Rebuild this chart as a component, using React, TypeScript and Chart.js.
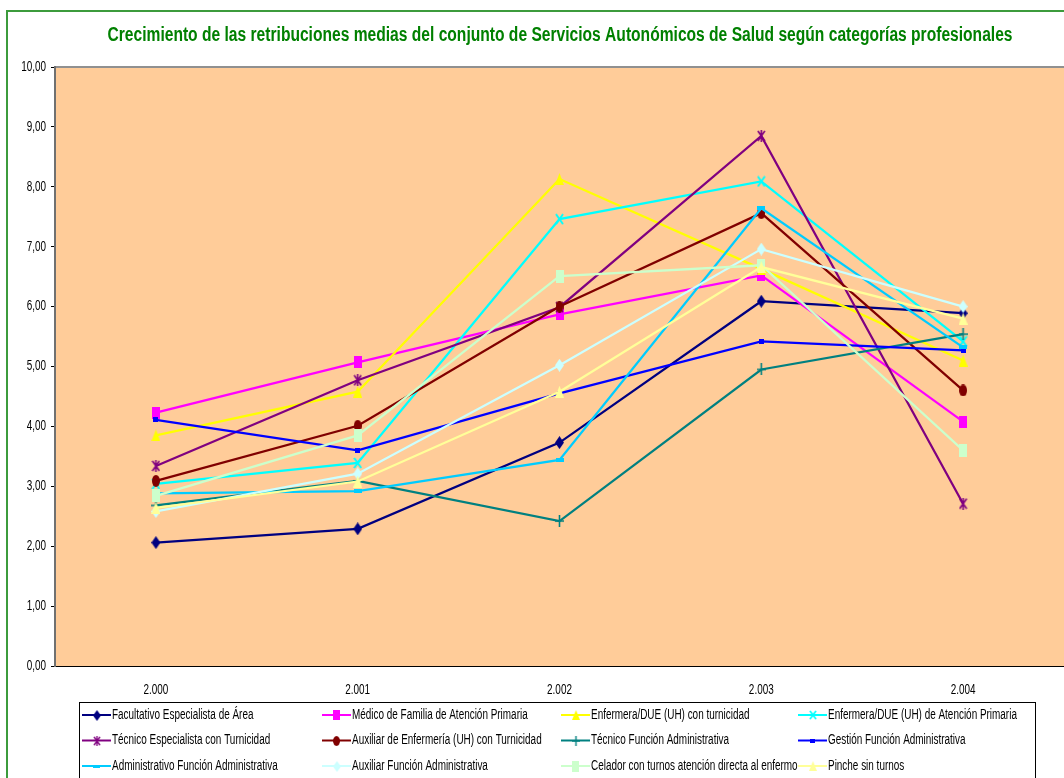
import React, { useEffect, useRef } from "react";
import { Chart, registerables } from "chart.js";

Chart.register(...registerables);

const TITLE = "Crecimiento de las retribuciones medias del conjunto de Servicios Autonómicos de Salud según categorías profesionales";
const YEARS = ["2.000", "2.001", "2.002", "2.003", "2.004"];

const facultativo = [2.06, 2.29, 3.73, 6.09, 5.89];
const medicoFamilia = [4.23, 5.07, 5.87, 6.52, 4.08];
const enfermeraTurnicidad = [3.85, 4.58, 8.13, 6.63, 5.1];
const enfermeraAP = [3.04, 3.39, 7.46, 8.09, 5.42];
const tecnicoEspecialista = [3.34, 4.77, 5.99, 8.85, 2.71];
const auxiliarEnfermeria = [3.09, 4.01, 6.0, 7.56, 4.6];
const tecnicoFuncionAdm = [2.68, 3.09, 2.42, 4.95, 5.54];
const gestionFuncionAdm = [4.11, 3.6, 4.55, 5.42, 5.27];
const administrativoFuncionAdm = [2.88, 2.92, 3.44, 7.64, 5.32];
const auxiliarFuncionAdm = [2.58, 3.21, 5.02, 6.96, 6.0];
const celador = [2.84, 3.85, 6.51, 6.69, 3.6];
const pinche = [2.64, 3.08, 4.58, 6.66, 5.8];

const SERIES_NAMES = [
  "Facultativo Especialista de Área",
  "Médico de Familia de Atención Primaria",
  "Enfermera/DUE (UH) con turnicidad",
  "Enfermera/DUE (UH) de Atención Primaria",
  "Técnico Especialista con Turnicidad",
  "Auxiliar de Enfermería (UH) con Turnicidad",
  "Técnico Función Administrativa",
  "Gestión Función Administrativa",
  "Administrativo Función Administrativa",
  "Auxiliar Función Administrativa",
  "Celador con turnos atención directa al enfermo",
  "Pinche sin turnos",
];
const SERIES_DATA = [
  facultativo, medicoFamilia, enfermeraTurnicidad, enfermeraAP,
  tecnicoEspecialista, auxiliarEnfermeria, tecnicoFuncionAdm, gestionFuncionAdm,
  administrativoFuncionAdm, auxiliarFuncionAdm, celador, pinche,
];
const COLORS = [
  "#000080", "#FF00FF", "#FFFF00", "#00FFFF",
  "#800080", "#800000", "#008080", "#0000FF",
  "#00CCFF", "#CCFFFF", "#CCFFCC", "#FFFF99",
];
// marker kind, width, height
const MARKERS: [string, number, number][] = [
  ["diamond", 9, 13],
  ["square", 8, 12],
  ["triangle", 9, 12],
  ["x", 9, 12],
  ["star", 9, 12],
  ["ellipse", 8, 12],
  ["plus", 9, 12],
  ["square", 5, 5],
  ["dash", 8, 4],
  ["diamond", 9, 13],
  ["square", 8, 13],
  ["triangle", 9, 12],
];

const FONT = "'Liberation Sans', Arial, sans-serif";
const NARROW = 0.71;

let markerImages: HTMLCanvasElement[] = [];

function makeMarker(kind: string, color: string, w: number, h: number): HTMLCanvasElement {
  const c = document.createElement("canvas");
  c.width = w;
  c.height = h;
  const g = c.getContext("2d")!;
  g.fillStyle = color;
  g.strokeStyle = color;
  g.lineWidth = 1.6;
  const cx = w / 2, cy = h / 2;
  g.beginPath();
  if (kind === "diamond") {
    g.moveTo(cx, 0); g.lineTo(w, cy); g.lineTo(cx, h); g.lineTo(0, cy); g.closePath(); g.fill();
  } else if (kind === "square" || kind === "dash") {
    g.fillRect(0, 0, w, h);
  } else if (kind === "triangle") {
    g.moveTo(cx, 0); g.lineTo(w, h); g.lineTo(0, h); g.closePath(); g.fill();
  } else if (kind === "ellipse") {
    g.ellipse(cx, cy, w / 2, h / 2, 0, 0, Math.PI * 2); g.fill();
  } else if (kind === "x") {
    g.lineWidth = 2;
    g.moveTo(1, 1); g.lineTo(w - 1, h - 1); g.moveTo(w - 1, 1); g.lineTo(1, h - 1); g.stroke();
  } else if (kind === "plus") {
    g.moveTo(cx, 0); g.lineTo(cx, h); g.moveTo(0, cy); g.lineTo(w, cy); g.stroke();
  } else if (kind === "star") {
    g.moveTo(1, 1); g.lineTo(w - 1, h - 1); g.moveTo(w - 1, 1); g.lineTo(1, h - 1);
    g.moveTo(cx, 0); g.lineTo(cx, h); g.stroke();
  }
  return c;
}

function narrowText(ctx: any, text: string, x: number, y: number, align: string, size: number) {
  ctx.save();
  ctx.font = size + "px " + FONT;
  ctx.textAlign = align;
  ctx.textBaseline = "middle";
  ctx.translate(x, y);
  ctx.scale(NARROW, 1);
  ctx.fillText(text, 0, 0);
  ctx.restore();
}

const decorPlugin = {
  id: "decor",
  beforeDraw(chart: any) {
    const ctx = chart.ctx;
    const a = chart.chartArea;
    ctx.save();
    ctx.fillStyle = "#FFFFFF";
    ctx.fillRect(0, 0, chart.width, chart.height);
    ctx.strokeStyle = "#3C9B3C";
    ctx.lineWidth = 2;
    ctx.strokeRect(7, 11, 2000, 2000);
    ctx.fillStyle = "#FFCC99";
    ctx.fillRect(a.left, a.top, a.right - a.left, a.bottom - a.top);
    ctx.strokeStyle = "#909090";
    ctx.lineWidth = 2;
    ctx.beginPath();
    ctx.moveTo(a.left, a.top);
    ctx.lineTo(a.right + 2, a.top);
    ctx.stroke();
    ctx.fillStyle = "#008000";
    ctx.font = "bold 19px " + FONT;
    ctx.textAlign = "center";
    ctx.textBaseline = "middle";
    const w = ctx.measureText(TITLE).width;
    ctx.translate(560, 36);
    ctx.scale(905 / w, 1.05);
    ctx.fillText(TITLE, 0, 0);
    ctx.restore();
  },
  afterDraw(chart: any) {
    const ctx = chart.ctx;
    ctx.save();
    ctx.fillStyle = "#000000";
    const ys = chart.scales.y;
    ys.ticks.forEach((t: any) => {
      const py = ys.getPixelForValue(t.value);
      narrowText(ctx, Number(t.value).toFixed(2).replace(".", ","), 46, py, "right", 14);
    });
    const xs = chart.scales.x;
    YEARS.forEach((lab, i) => {
      narrowText(ctx, lab, xs.getPixelForTick(i), 690, "center", 14);
    });
    ctx.strokeStyle = "#000000";
    ctx.lineWidth = 1;
    ctx.strokeRect(79.5, 702.5, 956, 120);
    const colX = [82, 322, 561, 798];
    const rowY = [715, 740.5, 766];
    for (let i = 0; i < SERIES_NAMES.length; i++) {
      const r = Math.floor(i / 4);
      const c = i % 4;
      const x0 = colX[c];
      const y = rowY[r];
      ctx.strokeStyle = COLORS[i];
      ctx.lineWidth = 2;
      ctx.beginPath();
      ctx.moveTo(x0, y);
      ctx.lineTo(x0 + 29, y);
      ctx.stroke();
      const img = markerImages[i];
      if (img) {
        const sw = Math.round(img.width * 0.9), sh = Math.round(img.height * 0.85);
        ctx.drawImage(img, Math.round(x0 + 14.5 - sw / 2), Math.round(y - sh / 2), sw, sh);
      }
      ctx.fillStyle = "#000000";
      narrowText(ctx, SERIES_NAMES[i], x0 + 30, y, "left", 14);
    }
    ctx.restore();
  },
};

export default function App() {
  const ref = useRef<HTMLCanvasElement | null>(null);
  useEffect(() => {
    const canvas = ref.current;
    if (!canvas) return;
    markerImages = MARKERS.map((m, i) => makeMarker(m[0], COLORS[i], m[1], m[2]));
    const datasets = SERIES_NAMES.map((name, i) => ({
      label: name,
      data: SERIES_DATA[i],
      borderColor: COLORS[i],
      backgroundColor: COLORS[i],
      borderWidth: 2.25,
      pointStyle: markerImages[i] as any,
      pointRadius: 6,
      tension: 0,
      fill: false,
      clip: 20,
      order: SERIES_NAMES.length - i,
    }));
    const chart = new Chart(canvas, {
      type: "line",
      data: { labels: YEARS, datasets },
      plugins: [decorPlugin],
      options: {
        animation: false,
        responsive: false,
        devicePixelRatio: 1,
        layout: { autoPadding: false, padding: { left: 0, right: 0, top: 67, bottom: 72 } },
        plugins: {
          legend: { display: false },
          title: { display: false },
          tooltip: { enabled: false },
        },
        scales: {
          x: {
            offset: true,
            grid: { display: false, drawTicks: false },
            border: { display: true, color: "#000000", width: 1 },
            ticks: { display: false },
            afterFit: (s: any) => { s.height = 40; s.paddingLeft = 0; s.paddingRight = 0; },
          },
          y: {
            min: 0,
            max: 10,
            grid: { drawOnChartArea: false, drawTicks: true, tickLength: 4, color: "#000000" },
            border: { display: true, color: "#707070", width: 2 },
            ticks: { display: false, stepSize: 1 },
            afterFit: (s: any) => { s.width = 55; s.paddingTop = 0; s.paddingBottom = 0; },
          },
        },
      },
    });
    return () => chart.destroy();
  }, []);
  return (
    <div style={{ position: "absolute", left: 0, top: 0, width: 1064, height: 778, background: "#fff" }}>
      <canvas ref={ref} width={1064} height={778} style={{ display: "block", width: 1064, height: 778 }} />
    </div>
  );
}
